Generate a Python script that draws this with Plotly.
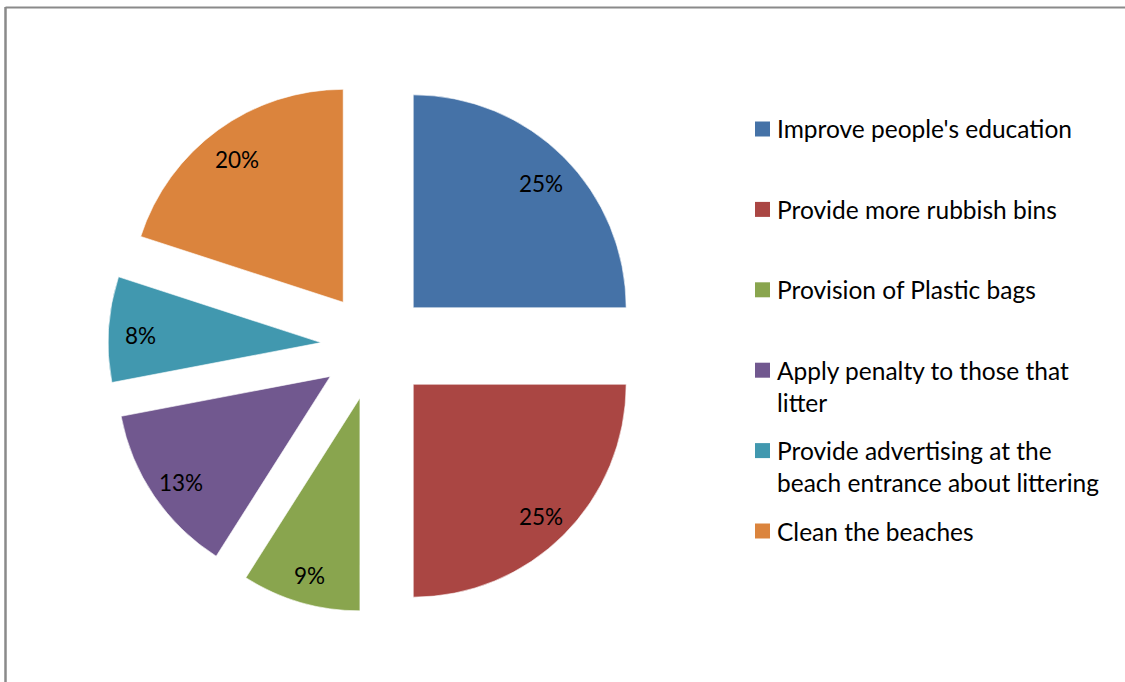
import math
import plotly.graph_objects as go

# ---- data ----
labels = [
    "Improve people's education",
    "Provide more rubbish bins",
    "Provision of Plastic bags",
    "Apply penalty to those that<br>litter",
    "Provide advertising at the<br>beach entrance about littering",
    "Clean the beaches",
]
values = [25, 25, 9, 13, 8, 20]
colors = ["#4572A7", "#AA4643", "#89A54E", "#71588F", "#4198AF", "#DB843D"]

W, H = 1125, 682
FONT = "Lato, 'Open Sans', sans-serif"

# pie geometry (pixels)
dom_x = (108, 642)
dom_y = (79, 613)
PULL = 0.254
LABEL_R = 0.85  # label distance from slice tip, as fraction of radius
LABEL_DY = 4    # small downward nudge of label text (px)

fig = go.Figure()
fig.add_trace(go.Pie(
    labels=labels,
    values=values,
    sort=False,
    direction="clockwise",
    rotation=0,
    pull=[PULL] * len(values),
    marker=dict(colors=colors, line=dict(color="rgba(255,255,255,0.6)", width=1)),
    textinfo="none",
    showlegend=False,
    hoverinfo="label+percent",
    domain=dict(x=[dom_x[0] / W, dom_x[1] / W], y=[1 - dom_y[1] / H, 1 - dom_y[0] / H]),
))

# percentage labels placed along each slice's bisector (computed from values)
cx = (dom_x[0] + dom_x[1]) / 2
cy = (dom_y[0] + dom_y[1]) / 2
r = min(dom_x[1] - dom_x[0], dom_y[1] - dom_y[0]) / 2 / (1 + PULL)
total = sum(values)
annotations = []
cum = 0.0
for v in values:
    mid = (cum + v / 2) / total * 2 * math.pi
    cum += v
    dx, dy = math.sin(mid), -math.cos(mid)
    d = r * (PULL + LABEL_R)
    px, py = cx + d * dx, cy + d * dy + LABEL_DY
    annotations.append(dict(
        xref="paper", yref="paper", x=px / W, y=1 - py / H,
        xanchor="center", yanchor="middle", showarrow=False,
        text=f"{round(v / total * 100)}%",
        font=dict(family=FONT, size=22.5, color="#000000"),
    ))

# ---- manual legend (Excel-style spacing) ----
leg_x_sq = 755
leg_x_txt = 775
leg_y0 = 129
leg_dy = 80.4
sq = 15
line_h = 31
shapes = []
for i, (lab, col) in enumerate(zip(labels, colors)):
    yc = leg_y0 + leg_dy * i
    shapes.append(dict(
        type="rect", xref="paper", yref="paper",
        x0=leg_x_sq / W, x1=(leg_x_sq + sq) / W,
        y0=1 - (yc + sq / 2) / H, y1=1 - (yc - sq / 2) / H,
        fillcolor=col, line=dict(width=0),
    ))
    annotations.append(dict(
        xref="paper", yref="paper",
        x=leg_x_txt / W, y=1 - (yc - line_h / 2 - 1) / H,
        xanchor="left", yanchor="top", align="left",
        text=lab, showarrow=False,
        font=dict(family=FONT, size=24.5, color="#000000"),
    ))

# chart frame (top and left edges visible)
shapes.append(dict(type="line", xref="paper", yref="paper",
                   x0=5.5 / W, x1=1.0, y0=1 - 7.5 / H, y1=1 - 7.5 / H,
                   line=dict(color="#8a8a8a", width=2)))
shapes.append(dict(type="line", xref="paper", yref="paper",
                   x0=5.5 / W, x1=5.5 / W, y0=0, y1=1 - 7 / H,
                   line=dict(color="#8a8a8a", width=2.5)))

fig.update_layout(
    width=W, height=H,
    margin=dict(l=0, r=0, t=0, b=0),
    paper_bgcolor="white",
    plot_bgcolor="white",
    shapes=shapes,
    annotations=annotations,
    font=dict(family=FONT),
)

fig.write_html(
    "out.html",
    config={"displayModeBar": False},
    post_script="document.body.style.margin='0';document.body.style.overflow='hidden';",
)
